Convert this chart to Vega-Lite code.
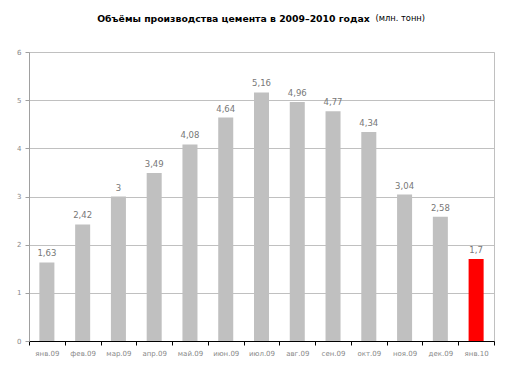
{
  "$schema": "https://vega.github.io/schema/vega-lite/v6.json",
  "width": 465,
  "height": 289,
  "autosize": {"type": "none"},
  "padding": {"left": 29, "top": 52, "right": 29, "bottom": 34},
  "background": "white",
  "config": {
    "locale": {"number": {"decimal": ",", "thousands": " ", "grouping": [3], "currency": ["", ""]}},
    "view": {"stroke": "#C0C0C0", "strokeWidth": 1},
    "font": "DejaVu Sans"
  },
  "title": {
    "text": "Объёмы производства цемента в 2009–2010 годах",
    "fontSize": 9.3,
    "fontWeight": "bold",
    "font": "DejaVu Sans",
    "color": "black",
    "anchor": "middle",
    "frame": "group",
    "dx": -28,
    "offset": -11
  },
  "data": {
    "values": [
      {"month": "янв.09", "value": 1.63, "highlight": "no"},
      {"month": "фев.09", "value": 2.42, "highlight": "no"},
      {"month": "мар.09", "value": 3, "highlight": "no"},
      {"month": "апр.09", "value": 3.49, "highlight": "no"},
      {"month": "май.09", "value": 4.08, "highlight": "no"},
      {"month": "июн.09", "value": 4.64, "highlight": "no"},
      {"month": "июл.09", "value": 5.16, "highlight": "no"},
      {"month": "авг.09", "value": 4.96, "highlight": "no"},
      {"month": "сен.09", "value": 4.77, "highlight": "no"},
      {"month": "окт.09", "value": 4.34, "highlight": "no"},
      {"month": "ноя.09", "value": 3.04, "highlight": "no"},
      {"month": "дек.09", "value": 2.58, "highlight": "no"},
      {"month": "янв.10", "value": 1.7, "highlight": "yes"}
    ]
  },
  "encoding": {
    "y": {
      "field": "value",
      "type": "quantitative",
      "scale": {"domain": [0, 6], "nice": false},
      "axis": {
        "title": "(млн. тонн)",
        "titleAngle": 0,
        "titleX": 346,
        "titleY": -34,
        "titleAlign": "left",
        "titleBaseline": "middle",
        "titleFontSize": 8.3,
        "titleFontWeight": "normal",
        "titleColor": "black",
        "tickCount": 6,
        "labelOverlap": false,
        "labelFontSize": 7,
        "labelColor": "#888888",
        "labelPadding": 4,
        "tickSize": 4,
        "tickColor": "#A0A0A0",
        "domainColor": "#A0A0A0",
        "gridColor": "#C0C0C0"
      }
    }
  },
  "layer": [
    {
      "mark": {"type": "rule", "opacity": 0},
      "encoding": {
        "x": {
          "field": "month",
          "type": "nominal",
          "sort": null,
          "scale": {"paddingInner": 0, "paddingOuter": 0},
          "axis": {
            "orient": "bottom",
            "title": null,
            "labelAngle": 0,
            "labelFontSize": 7,
            "labelColor": "#888888",
            "labelPadding": 4,
            "ticks": true,
            "tickBand": "extent",
            "tickSize": 4,
            "tickColor": "black",
            "domainColor": "black",
            "grid": false
          }
        },
        "y": {"value": 0}
      }
    },
    {
      "mark": {"type": "bar"},
      "encoding": {
        "x": {
          "field": "month",
          "type": "nominal",
          "sort": null,
          "scale": {"paddingInner": 0.58, "paddingOuter": 0.29},
          "axis": null
        },
        "color": {
          "field": "highlight",
          "type": "nominal",
          "scale": {"domain": ["no", "yes"], "range": ["#C0C0C0", "#FF0000"]},
          "legend": null
        }
      }
    },
    {
      "mark": {"type": "text", "baseline": "middle", "dy": -9, "fontSize": 8.5, "color": "#777777"},
      "encoding": {
        "x": {
          "field": "month",
          "type": "nominal",
          "sort": null,
          "scale": {"paddingInner": 0.58, "paddingOuter": 0.29},
          "axis": null
        },
        "text": {"field": "value", "type": "quantitative", "format": "~g"},
        "fontWeight": {
          "field": "highlight",
          "type": "nominal",
          "scale": {"domain": ["no", "yes"], "range": ["normal", "bold"]},
          "legend": null
        }
      }
    }
  ],
  "resolve": {"scale": {"x": "independent"}, "axis": {"x": "independent"}}
}
